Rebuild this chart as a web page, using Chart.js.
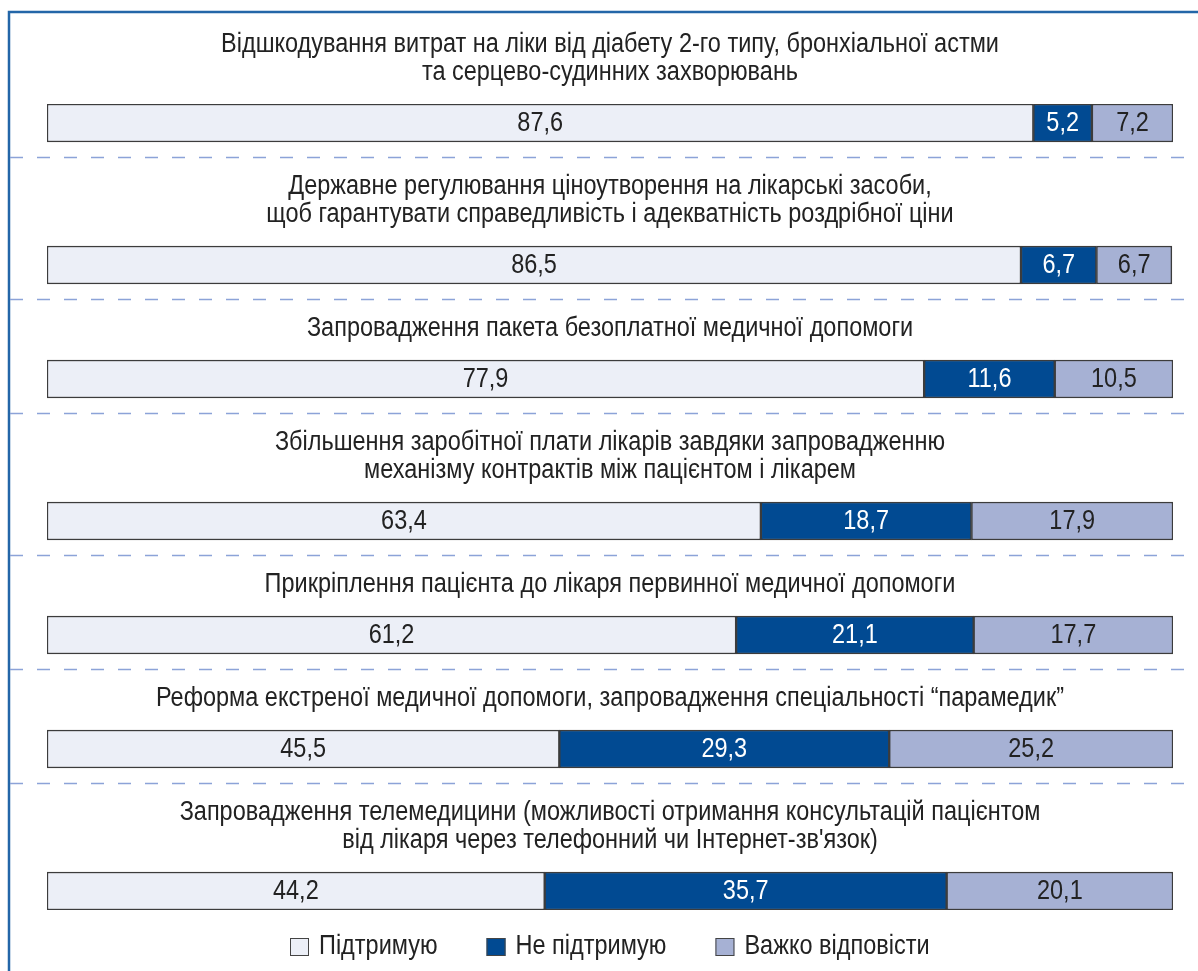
<!DOCTYPE html>
<html lang="uk">
<head>
<meta charset="utf-8">
<title>Підтримка реформ</title>
<script src="https://cdn.jsdelivr.net/npm/chart.js@4"></script>
<style>
  html, body { margin: 0; padding: 0; background: #fff; }
  #wrap { width: 1198px; height: 971px; position: relative; }
</style>
</head>
<body>
<div id="wrap"><canvas id="chart" width="1198" height="971"></canvas></div>
<script>
// row titles (one array of lines per row)
const categories = [
  ["Відшкодування витрат на ліки від діабету 2-го типу, бронхіальної астми", "та серцево-судинних захворювань"],
  ["Державне регулювання ціноутворення на лікарські засоби,", "щоб гарантувати справедливість і адекватність роздрібної ціни"],
  ["Запровадження пакета безоплатної медичної допомоги"],
  ["Збільшення заробітної плати лікарів завдяки запровадженню", "механізму контрактів між пацієнтом і лікарем"],
  ["Прикріплення пацієнта до лікаря первинної медичної допомоги"],
  ["Реформа екстреної медичної допомоги, запровадження спеціальності “парамедик”"],
  ["Запровадження телемедицини (можливості отримання консультацій пацієнтом", "від лікаря через телефонний чи Інтернет-зв'язок)"]
];
const seriesNames = ["Підтримую", "Не підтримую", "Важко відповісти"];
const support = [87.6, 86.5, 77.9, 63.4, 61.2, 45.5, 44.2];
const against = [5.2, 6.7, 11.6, 18.7, 21.1, 29.3, 35.7];
const hard = [7.2, 6.7, 10.5, 17.9, 17.7, 25.2, 20.1];

const FONT = '27px "Liberation Sans", Arial, sans-serif';
const SX = 0.87; // squeeze glyphs like a condensed face
const colors = ["#eceff7", "#014a92", "#a6b1d4"];
const labelColors = ["#222222", "#ffffff", "#222222"];

// row gap grows with the number of title lines of the next row
const ROW_BASE = 86, LINE_H = 28, BAR_H = 38;
const rowPos = [];
categories.forEach((lines, i) => {
  rowPos.push(i === 0 ? 0 : rowPos[i - 1] + ROW_BASE + LINE_H * lines.length);
});

const toPoints = vals => vals.map((v, i) => ({ x: v, y: rowPos[i] }));
const fmt = v => v.toFixed(1).replace(".", ",");

function narrowText(ctx, text, x, y) {
  ctx.save();
  ctx.translate(x, y);
  ctx.scale(SX, 1);
  ctx.fillText(text, 0, 0);
  ctx.restore();
}

const decor = {
  id: "decor",
  beforeDraw(chart) {
    const ctx = chart.ctx;
    ctx.save();
    ctx.fillStyle = "#fff";
    ctx.fillRect(0, 0, chart.width, chart.height);
    ctx.restore();
  },
  afterDatasetsDraw(chart) {
    const ctx = chart.ctx;
    const y = chart.scales.y;
    const area = chart.chartArea;
    const cx = (area.left + area.right) / 2;
    ctx.save();

    // frame
    ctx.strokeStyle = "#2366a8";
    ctx.lineWidth = 2.5;
    ctx.beginPath();
    ctx.moveTo(9, chart.height);
    ctx.lineTo(9, 12);
    ctx.lineTo(chart.width, 12);
    ctx.stroke();

    // dashed separators
    ctx.strokeStyle = "#8ca3d8";
    ctx.lineWidth = 1.3;
    ctx.setLineDash([13, 14]);
    rowPos.slice(0, -1).forEach(p => {
      const sy = Math.round(y.getPixelForValue(p) + BAR_H / 2 + 15) + 0.5;
      ctx.beginPath();
      ctx.moveTo(10, sy);
      ctx.lineTo(chart.width, sy);
      ctx.stroke();
    });
    ctx.setLineDash([]);

    // row titles
    ctx.fillStyle = "#222";
    ctx.font = FONT;
    ctx.textAlign = "center";
    ctx.textBaseline = "middle";
    categories.forEach((lines, i) => {
      const barTop = y.getPixelForValue(rowPos[i]) - BAR_H / 2;
      lines.forEach((t, k) => {
        narrowText(ctx, t, cx, barTop - 31 - LINE_H * (lines.length - 1 - k));
      });
    });

    // value labels
    chart.data.datasets.forEach((ds, di) => {
      chart.getDatasetMeta(di).data.forEach((bar, i) => {
        ctx.fillStyle = labelColors[di];
        narrowText(ctx, fmt(ds.data[i].x), (bar.x + bar.base) / 2, bar.y + 1);
      });
    });

    // legend, centred under the bars
    ctx.textAlign = "left";
    const boxW = 19, boxH = 18, txtGap = 10, itemGap = 49, ly = 947;
    const widths = seriesNames.map(n => ctx.measureText(n).width * SX);
    const total = widths.reduce((s, w) => s + boxW + txtGap + w, 0) + itemGap * (seriesNames.length - 1);
    let lx = Math.round(cx - total / 2);
    seriesNames.forEach((name, i) => {
      ctx.fillStyle = colors[i];
      ctx.fillRect(lx, ly - boxH / 2, boxW, boxH);
      ctx.strokeStyle = "#444";
      ctx.lineWidth = 1;
      ctx.strokeRect(lx + 0.5, ly - boxH / 2 + 0.5, boxW - 1, boxH - 1);
      ctx.fillStyle = "#222";
      narrowText(ctx, name, lx + boxW + txtGap, ly);
      lx += boxW + txtGap + widths[i] + itemGap;
    });
    ctx.restore();
  }
};

new Chart(document.getElementById("chart"), {
  type: "bar",
  data: {
    datasets: seriesNames.map((name, i) => ({
      label: name,
      data: toPoints([support, against, hard][i]),
      backgroundColor: colors[i],
      borderColor: "#3c3c3c",
      borderWidth: 1.5,
      borderSkipped: false,
      barThickness: BAR_H
    }))
  },
  options: {
    indexAxis: "y",
    responsive: false,
    animation: false,
    layout: { padding: { left: 47, right: 25, top: 104, bottom: 971 - 104 - (rowPos[rowPos.length - 1] + BAR_H) } },
    scales: {
      x: { type: "linear", stacked: true, min: 0, max: 100, display: false },
      y: { type: "linear", stacked: true, reverse: true, offset: false, min: -BAR_H / 2, max: rowPos[rowPos.length - 1] + BAR_H / 2, display: false }
    },
    plugins: { legend: { display: false }, tooltip: { enabled: false } }
  },
  plugins: [decor]
});
</script>
</body>
</html>
